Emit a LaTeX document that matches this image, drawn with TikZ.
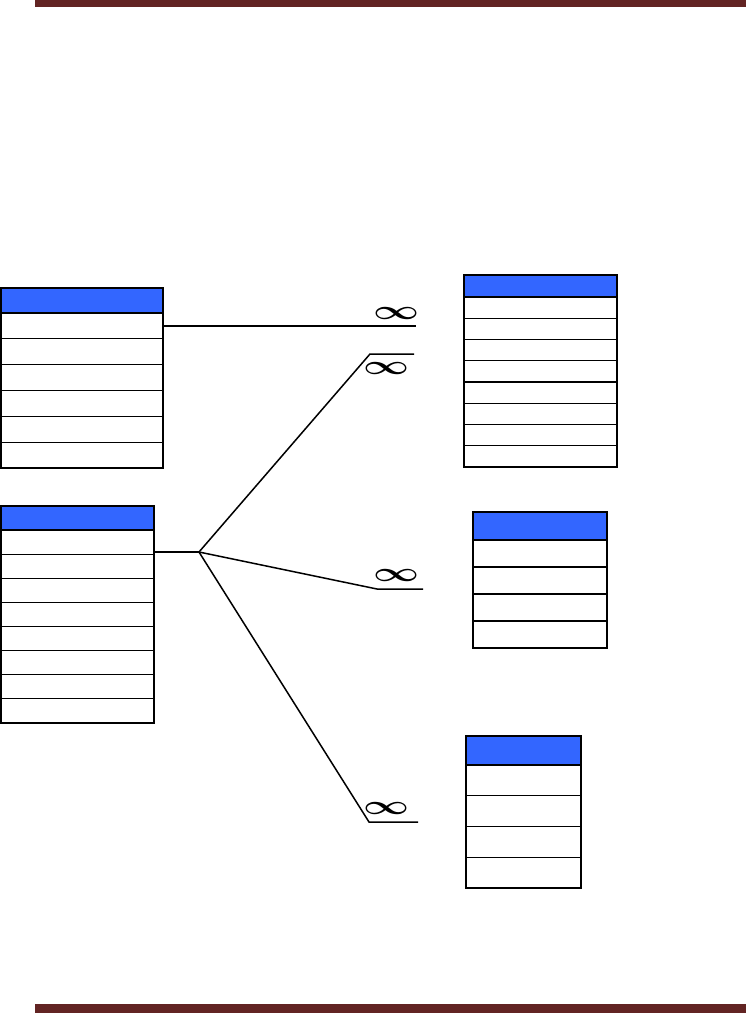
\documentclass[tikz,border=0pt]{standalone}
\usepackage{amsmath, amssymb}
\usepackage{graphicx}
\usepackage{tikz}
\usetikzlibrary{positioning}
\definecolor{barRed}{RGB}{98,36,35}
\definecolor{headBlue}{RGB}{51,102,255}

\begin{document}
\begin{tikzpicture}[
        x=1pt, y=-1pt,
        headNode/.style={draw, fill=headBlue, line width=1.2pt, anchor=north west, inner sep=0pt, outer sep=0pt},
        rowNode/.style={draw, fill=white, line width=1.2pt, inner sep=0pt, outer sep=0pt},
        frame/.style={draw, line width=2pt},
        link/.style={line width=1.5pt},
        infNode/.style={inner sep=0pt}
    ]
        \useasboundingbox (0,0) rectangle (746,1013);

        % Bars
        \fill[barRed] (35,0) rectangle (746,7);
        \fill[barRed] (35,1004) rectangle (746,1013);

        % Tables: header, then rows one below the other
        \node[headNode, minimum width=162pt, minimum height=25pt] (a0) at (1,288) {};
        \foreach \i [remember=\i as \last (initially 0)] in {1,...,6}
            \node[rowNode, minimum width=162pt, minimum height=25.83pt, below=0pt of a\last] (a\i) {};
        \draw[frame] (a0.north west) rectangle (a6.south east);

        \node[headNode, minimum width=153pt, minimum height=22pt] (b0) at (464,275) {};
        \foreach \i [remember=\i as \last (initially 0)] in {1,...,8}
            \node[rowNode, minimum width=153pt, minimum height=21.25pt, below=0pt of b\last] (b\i) {};
        \draw[frame] (b0.north west) rectangle (b8.south east);

        \node[headNode, minimum width=153pt, minimum height=24pt] (c0) at (1,506) {};
        \foreach \i [remember=\i as \last (initially 0)] in {1,...,8}
            \node[rowNode, minimum width=153pt, minimum height=24.1pt, below=0pt of c\last] (c\i) {};
        \draw[frame] (c0.north west) rectangle (c8.south east);

        \node[headNode, minimum width=134pt, minimum height=28pt] (d0) at (473,512) {};
        \foreach \i [remember=\i as \last (initially 0)] in {1,...,4}
            \node[rowNode, minimum width=134pt, minimum height=27pt, below=0pt of d\last] (d\i) {};
        \draw[frame] (d0.north west) rectangle (d4.south east);

        \node[headNode, minimum width=115pt, minimum height=29pt] (e0) at (466,736) {};
        \foreach \i [remember=\i as \last (initially 0)] in {1,...,4}
            \node[rowNode, minimum width=115pt, minimum height=30.75pt, below=0pt of e\last] (e\i) {};
        \draw[frame] (e0.north west) rectangle (e4.south east);

        % Connector ends
        \coordinate (hub) at (199,552);
        \coordinate (end1) at (416,326);
        \coordinate (bend2) at (370,354);
        \coordinate (end2) at (414,354);
        \coordinate (bend3) at (377,589);
        \coordinate (end3) at (423,589);
        \coordinate (bend4) at (369,822);
        \coordinate (end4) at (418,822);

        % Connectors
        \draw[link] (a1.east) -- (end1 |- a1.east);
        \draw[link] (hub -| c1.east) -- (hub);
        \draw[link] (hub) -- (bend2) -- (end2);
        \draw[link] (hub) -- (bend3) -- (end3);
        \draw[link] (hub) -- (bend4) -- (end4);

        % Many-side marks
        \node[infNode] (inf1) at (396,313) {\scalebox{4}[2.7]{$\boldsymbol{\infty}$}};
        \node[infNode] (inf2) at (386,368) {\scalebox{4}[2.7]{$\boldsymbol{\infty}$}};
        \node[infNode] (inf3) at (396,575) {\scalebox{4}[2.7]{$\boldsymbol{\infty}$}};
        \node[infNode] (inf4) at (386,808) {\scalebox{4}[2.7]{$\boldsymbol{\infty}$}};
    \end{tikzpicture}
\end{document}
